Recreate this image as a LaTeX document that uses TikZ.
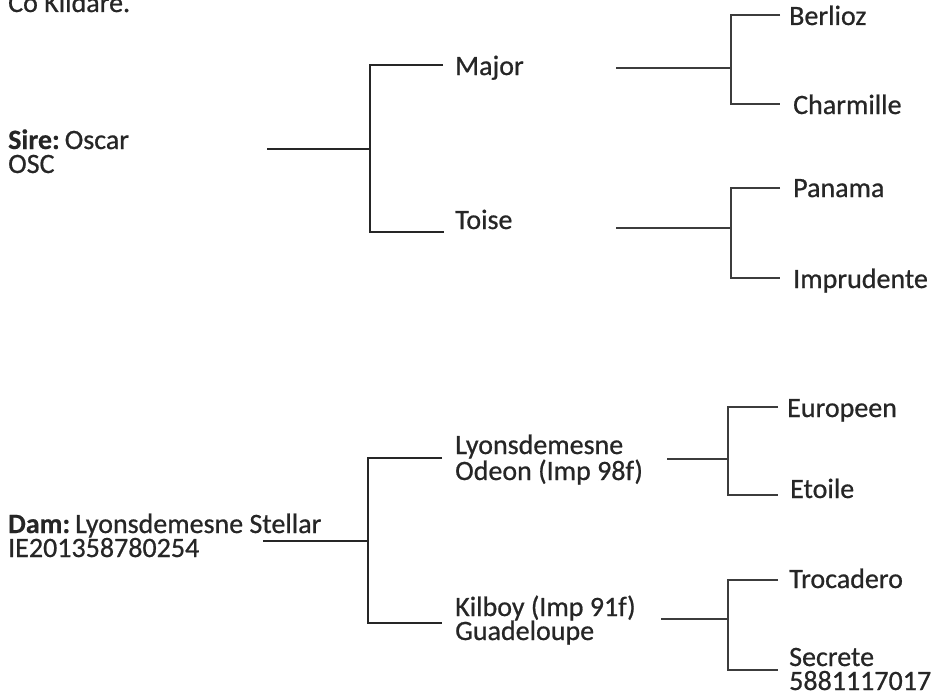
\documentclass[tikz,border=0pt]{standalone}
\usepackage{fontspec}
\setmainfont{Carlito}[FakeBold=0.7, BoldFeatures={FakeBold=0.4}]
\definecolor{inkgray}{HTML}{262626}
\tikzset{
  horse/.style={anchor=base west, inner sep=0pt, align=left, text=inkgray,
    font=\fontsize{28}{24}\selectfont},
  firstgen/.style={draw=inkgray, line width=2.4pt},
  secondgen/.style={draw=inkgray!90, line width=1.5pt}
}
\begin{document}
\begin{tikzpicture}[x=1pt, y=-1pt]
        \useasboundingbox (0,0) rectangle (936,693);
        % Cabecera (cortada)
        \node[horse] (kildare) at (8,12) {Co Kildare.};
        % Padre (ancla en la ultima linea)
        \node[horse] (sire) at (8,173) {\textbf{Sire:}\hspace{5pt}Oscar\\OSC};
        \node[horse] (major) at (455,75) {Major};
        \node[horse] (toise) at (455,229) {Toise};
        \node[horse] (berlioz) at (789,25) {Berlioz};
        \node[horse] (charmille) at (793,114) {Charmille};
        \node[horse] (panama) at (793,197) {Panama};
        \node[horse] (imprudente) at (793,288) {Imprudente};
        % Madre
        \node[horse] (dam) at (8,557) {\textbf{Dam:}\hspace{5pt}Lyonsdemesne Stellar\\IE201358780254};
        \node[horse] (odeon) at (455,480) {Lyonsdemesne\\Odeon (Imp 98f)};
        \node[horse] (kilboy) at (455,640) {Kilboy (Imp 91f)\\Guadeloupe};
        \node[horse] (europeen) at (787,417) {Europeen};
        \node[horse] (etoile) at (790,498) {Etoile};
        \node[horse] (trocadero) at (789,588) {Trocadero};
        \node[horse] (secrete) at (789,690) {Secrete\\5881117017};
        % Extremos de las llaves
        \coordinate (sireout) at (267,149);
        \coordinate (sirejoin) at (370,149);
        \coordinate (majorin) at (443,65);
        \coordinate (toisein) at (444,232);
        \coordinate (majorout) at (616,68);
        \coordinate (majorjoin) at (731,68);
        \coordinate (berliozin) at (780,15);
        \coordinate (charmillein) at (780,104);
        \coordinate (toiseout) at (616,228);
        \coordinate (toisejoin) at (731,228);
        \coordinate (panamain) at (780,188);
        \coordinate (imprudentein) at (780,278);
        \coordinate (damout) at (263,541);
        \coordinate (damjoin) at (368,541);
        \coordinate (odeonin) at (442,458);
        \coordinate (kilboyin) at (442,623);
        \coordinate (odeonout) at (667,459);
        \coordinate (odeonjoin) at (728,459);
        \coordinate (europeenin) at (778,407);
        \coordinate (etoilein) at (778,495);
        \coordinate (kilboyout) at (661,619);
        \coordinate (kilboyjoin) at (728,619);
        \coordinate (trocaderoin) at (778,580);
        \coordinate (secretein) at (778,670);
        % Primera generacion
        \draw[firstgen] (sireout) -- (sirejoin);
        \draw[firstgen] (majorin) -| (sirejoin) |- (toisein);
        \draw[firstgen] (damout) -- (damjoin);
        \draw[firstgen] (odeonin) -| (damjoin) |- (kilboyin);
        % Segunda generacion
        \draw[secondgen] (majorout) -- (majorjoin);
        \draw[secondgen] (berliozin) -| (majorjoin) |- (charmillein);
        \draw[secondgen] (toiseout) -- (toisejoin);
        \draw[secondgen] (panamain) -| (toisejoin) |- (imprudentein);
        \draw[secondgen] (odeonout) -- (odeonjoin);
        \draw[secondgen] (europeenin) -| (odeonjoin) |- (etoilein);
        \draw[secondgen] (kilboyout) -- (kilboyjoin);
        \draw[secondgen] (trocaderoin) -| (kilboyjoin) |- (secretein);
\end{tikzpicture}
\end{document}
